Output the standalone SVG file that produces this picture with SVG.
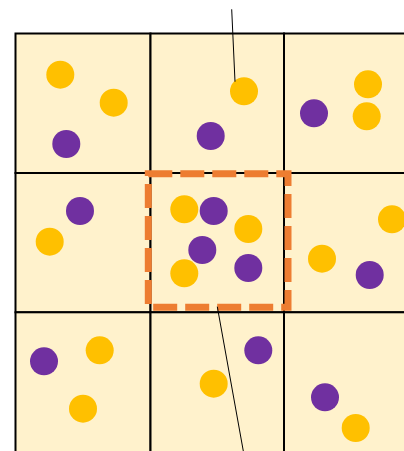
<svg xmlns="http://www.w3.org/2000/svg" width="404" height="451" viewBox="0 0 404 451">
<style>
.cell{fill:#FFF2CC;stroke:#000;stroke-width:2}
.y{fill:#FFC000}
.p{fill:#7030A0}
.sel{fill:none;stroke:#ED7D31;stroke-width:7;stroke-dasharray:24 8}
.lead{stroke:#000;stroke-width:1;fill:none}
</style>
<rect width="404" height="451" fill="#fff"/>
<g id="grid">
<rect class="cell" x="15.5" y="33.5" width="135" height="139.5"/>
<rect class="cell" x="150.5" y="33.5" width="133.5" height="139.5"/>
<rect class="cell" x="284" y="33.5" width="130" height="139.5"/>
<rect class="cell" x="15.5" y="173" width="135" height="139.3"/>
<rect class="cell" x="150.5" y="173" width="133.5" height="139.3"/>
<rect class="cell" x="284" y="173" width="130" height="139.3"/>
<rect class="cell" x="15.5" y="312.3" width="135" height="150"/>
<rect class="cell" x="150.5" y="312.3" width="133.5" height="150"/>
<rect class="cell" x="284" y="312.3" width="130" height="150"/>
</g>
<g id="cell-1-1">
<circle class="y" cx="60.3" cy="74.7" r="14"/>
<circle class="y" cx="113.7" cy="102.7" r="14"/>
<circle class="p" cx="66.3" cy="144" r="14"/>
</g>
<g id="cell-1-2">
<circle class="y" cx="244" cy="91.3" r="14"/>
<circle class="p" cx="210.7" cy="136" r="14"/>
</g>
<g id="cell-1-3">
<circle class="p" cx="314" cy="113.3" r="14"/>
<circle class="y" cx="368" cy="84.3" r="14"/>
<circle class="y" cx="366.7" cy="116.3" r="14"/>
</g>
<g id="cell-2-1">
<circle class="p" cx="80" cy="211" r="14"/>
<circle class="y" cx="49.7" cy="241.7" r="14"/>
</g>
<g id="cell-2-2">
<circle class="y" cx="184.3" cy="209.3" r="14"/>
<circle class="p" cx="213.7" cy="211" r="14"/>
<circle class="y" cx="248.3" cy="229" r="14"/>
<circle class="p" cx="202.3" cy="250" r="14"/>
<circle class="y" cx="184.3" cy="273.3" r="14"/>
<circle class="p" cx="248.3" cy="268" r="14"/>
</g>
<g id="cell-2-3">
<circle class="y" cx="392" cy="219.3" r="14"/>
<circle class="y" cx="322" cy="258.7" r="14"/>
<circle class="p" cx="369.7" cy="275" r="14"/>
</g>
<g id="cell-3-1">
<circle class="p" cx="44" cy="361.3" r="14"/>
<circle class="y" cx="99.7" cy="350.3" r="14"/>
<circle class="y" cx="83" cy="408.7" r="14"/>
</g>
<g id="cell-3-2">
<circle class="p" cx="258.3" cy="350.3" r="14"/>
<circle class="y" cx="213.7" cy="383.7" r="14"/>
</g>
<g id="cell-3-3">
<circle class="p" cx="325" cy="397.3" r="14"/>
<circle class="y" cx="355.7" cy="428" r="14"/>
</g>
<g id="selection">
<rect class="sel" x="148.3" y="173.7" width="139.7" height="133.5"/>
</g>
<g id="connectors">
<line class="lead" x1="231.7" y1="9.3" x2="235" y2="81.7"/>
<line class="lead" x1="217.3" y1="306.7" x2="243.3" y2="451"/>
</g>
</svg>
